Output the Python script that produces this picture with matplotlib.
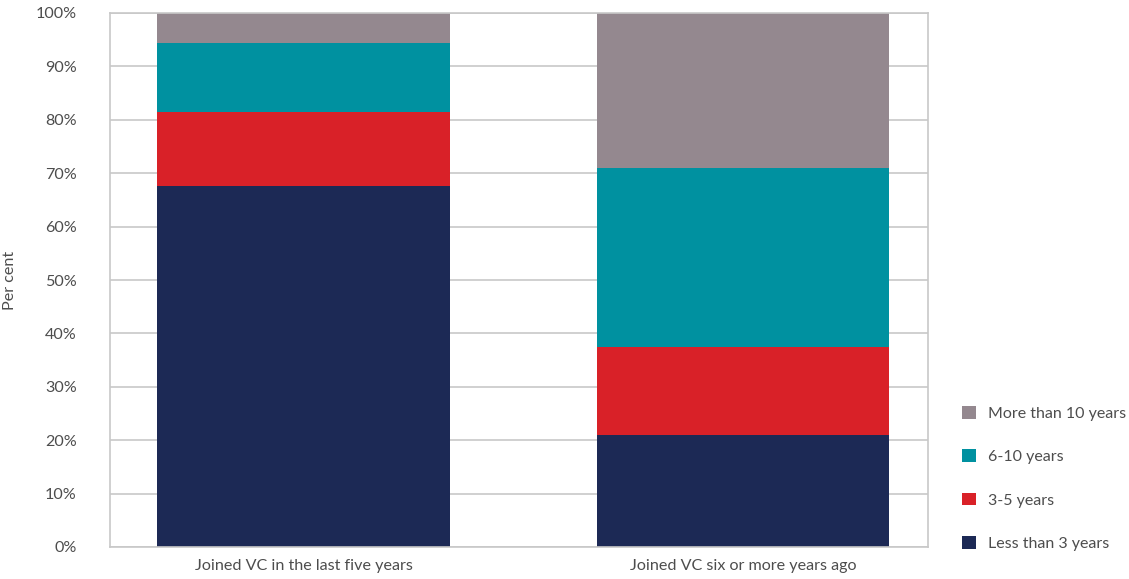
import numpy as np
import matplotlib.pyplot as plt

plt.rcParams['font.family'] = ['Lato', 'DejaVu Sans']

# Data
categories = ['Joined VC in the last five years', 'Joined VC six or more years ago']
series_names = ['Less than 3 years', '3-5 years', '6-10 years', 'More than 10 years']
less_than_3 = [67.6, 21.0]
three_to_5 = [13.9, 16.5]
six_to_10 = [12.9, 33.5]
more_than_10 = [5.6, 29.0]
colors = ['#1c2955', '#d92128', '#0091a0', '#94888f']

fig = plt.figure(figsize=(11.29, 5.79), dpi=100)
ax = fig.add_axes([110/1129, 32/579, 818/1129, 534/579])

x = np.arange(len(categories))
bottom = np.zeros(len(categories))
for name, vals, c in zip(series_names, [less_than_3, three_to_5, six_to_10, more_than_10], colors):
    ax.bar(x, vals, width=0.664, bottom=bottom, color=c, label=name, zorder=2)
    bottom += np.array(vals)

ax.set_xlim(-0.44, 1.42)
ax.set_ylim(0, 100)
ax.set_yticks(np.arange(0, 101, 10))
ax.set_yticklabels([f'{v}%' for v in range(0, 101, 10)])
ax.set_xticks(x)
ax.set_xticklabels(categories)
ax.yaxis.grid(True, color='#c8c8c8', linewidth=1.2, zorder=0)
for s in ax.spines.values():
    s.set_color('#c8c8c8')
    s.set_linewidth(1.2)
# pads are in points (1pt = 1.39px at 100 dpi)
ax.tick_params(axis='both', length=0, labelsize=11.6, labelcolor='#4d4d4d')
ax.tick_params(axis='x', pad=8.5)
ax.tick_params(axis='y', pad=24)
ax.set_ylabel('Per cent', fontsize=11.6, color='#4d4d4d')
ax.yaxis.set_label_coords(-0.114, 0.5)

handles, labels = ax.get_legend_handles_labels()
leg = fig.legend(handles[::-1], labels[::-1], loc='lower left', bbox_to_anchor=(956/1129, 22/579),
                 frameon=False, fontsize=11.5, labelspacing=1.76, handlelength=0.87, handleheight=0.87,
                 handletextpad=0.72, borderaxespad=0)
for t in leg.get_texts():
    t.set_color('#4d4d4d')

fig.savefig('out.png', dpi=100)
